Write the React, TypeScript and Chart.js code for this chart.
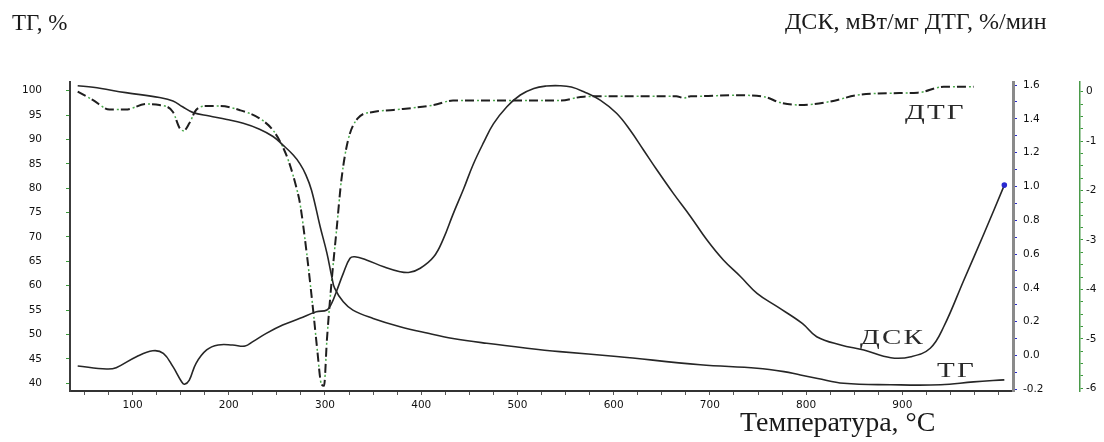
import React, { useEffect, useRef } from "react";
import { Chart, registerables } from "chart.js";
Chart.register(...registerables);

// ---- data ----
const TEMP_TG = [43, 59, 93, 128, 142, 152, 163, 180, 198, 215, 232, 246, 256, 267, 274, 280, 286, 295, 302, 307, 310, 319, 329, 350, 378, 406, 433, 468, 510, 544, 603, 690, 749, 777, 794, 812, 839, 888, 940, 974, 1006];
const TG = [101.0, 100.7, 99.6, 98.6, 97.9, 96.7, 95.5, 94.8, 94.1, 93.3, 92.1, 90.6, 88.9, 86.8, 85.0, 82.8, 79.6, 72.1, 66.7, 61.9, 59.5, 56.7, 55.0, 53.3, 51.6, 50.3, 49.2, 48.2, 47.2, 46.5, 45.5, 43.8, 43.1, 42.4, 41.7, 41.0, 40.0, 39.7, 39.7, 40.3, 40.7];

const TEMP_DSC = [43, 73, 83, 104, 121, 132, 142, 151, 154, 159, 166, 177, 189, 204, 217, 225, 239, 256, 274, 291, 302, 307, 312, 319, 326, 331, 343, 361, 378, 388, 399, 413, 423, 433, 444, 454, 465, 475, 489, 503, 517, 530, 544, 556, 569, 586, 603, 617, 631, 645, 662, 680, 697, 714, 732, 749, 770, 796, 811, 836, 860, 888, 909, 929, 943, 964, 985, 1006];
const DSC = [-0.062, -0.080, -0.072, -0.007, 0.028, 0.013, -0.066, -0.155, -0.170, -0.145, -0.046, 0.033, 0.062, 0.062, 0.056, 0.082, 0.131, 0.180, 0.220, 0.259, 0.269, 0.31, 0.38, 0.486, 0.575, 0.584, 0.565, 0.525, 0.496, 0.492, 0.516, 0.584, 0.690, 0.835, 0.985, 1.130, 1.262, 1.370, 1.472, 1.541, 1.580, 1.594, 1.596, 1.588, 1.560, 1.511, 1.433, 1.334, 1.216, 1.097, 0.959, 0.821, 0.683, 0.565, 0.466, 0.368, 0.289, 0.190, 0.111, 0.062, 0.032, -0.013, -0.007, 0.043, 0.170, 0.447, 0.723, 1.008];

const TEMP_DTG = [43, 59, 76, 93, 114, 128, 142, 149, 153, 159, 166, 177, 191, 211, 232, 246, 256, 263, 270, 274, 281, 288, 292, 296, 299, 302, 307, 312, 317, 324, 334, 350, 371, 413, 433, 468, 517, 544, 569, 603, 638, 665, 673, 680, 690, 725, 756, 773, 794, 825, 853, 888, 916, 943, 974];
const DTG = [0.00, -0.17, -0.36, -0.36, -0.25, -0.27, -0.41, -0.74, -0.79, -0.64, -0.37, -0.29, -0.29, -0.37, -0.54, -0.78, -1.11, -1.45, -1.92, -2.26, -3.27, -4.48, -5.23, -5.90, -5.95, -5.02, -3.81, -2.80, -1.79, -0.98, -0.54, -0.41, -0.37, -0.27, -0.18, -0.18, -0.18, -0.18, -0.10, -0.09, -0.09, -0.09, -0.13, -0.09, -0.09, -0.07, -0.10, -0.22, -0.27, -0.20, -0.07, -0.03, -0.02, 0.10, 0.10];

// ---- tick labels ----
const X_LABELS = [100, 200, 300, 400, 500, 600, 700, 800, 900];
const TG_LABELS = [40, 45, 50, 55, 60, 65, 70, 75, 80, 85, 90, 95, 100];
const DSC_LABELS = [-0.2, 0.0, 0.2, 0.4, 0.6, 0.8, 1.0, 1.2, 1.4, 1.6];
const DTG_LABELS = [-6, -5, -4, -3, -2, -1, 0];

const pts = (xs: number[], ys: number[]) => xs.map((x, i) => ({ x, y: ys[i] }));

const range = (a: number, b: number, step: number) => {
  const out: number[] = [];
  for (let v = a; v <= b + 1e-9; v += step) out.push(Math.round(v * 1000) / 1000);
  return out;
};

const TICK_FONT = { family: "'DejaVu Sans', Verdana, sans-serif", size: 10.5 };

export default function App() {
  const ref = useRef<HTMLCanvasElement>(null);

  useEffect(() => {
    if (!ref.current) return;
    const lastDsc = TEMP_DSC.length - 1;
    const chart = new Chart(ref.current, {
      type: "line",
      data: {
        datasets: [
          {
            label: "ТГ",
            data: pts(TEMP_TG, TG),
            yAxisID: "yTG",
            borderColor: "#262626",
            borderWidth: 1.6,
            pointRadius: 0,
            tension: 0.4,
          },
          {
            label: "ДСК",
            data: pts(TEMP_DSC, DSC),
            yAxisID: "yDSC",
            borderColor: "#262626",
            borderWidth: 1.6,
            pointRadius: (c: any) => (c.dataIndex === lastDsc ? 2 : 0),
            pointBackgroundColor: "#2a2ad0",
            pointBorderColor: "#2a2ad0",
            tension: 0.4,
          },
          {
            label: "ДТГ",
            data: pts(TEMP_DTG, DTG),
            yAxisID: "yDTG",
            borderColor: "#1e1e1e",
            borderWidth: 2,
            borderDash: [9, 7],
            pointRadius: 0,
            cubicInterpolationMode: "monotone",
          },
          {
            label: "ДТГ-dots",
            data: pts(TEMP_DTG, DTG),
            yAxisID: "yDTG",
            borderColor: "#4caa4c",
            borderWidth: 1.5,
            borderDash: [2, 14],
            borderDashOffset: 4,
            pointRadius: 0,
            cubicInterpolationMode: "monotone",
          },
        ] as any,
      },
      options: {
        animation: false,
        responsive: false,
        layout: { padding: { top: 82, left: 0, right: 0, bottom: 0 } },
        plugins: { legend: { display: false }, tooltip: { enabled: false } },
        scales: {
          x: {
            type: "linear",
            position: "bottom",
            min: 35,
            max: 1015,
            afterFit: (s: any) => { s.height = 51; },
            afterBuildTicks: (s: any) => { s.ticks = range(50, 1000, 25).map((v) => ({ value: v })); },
            ticks: {
              autoSkip: false,
              maxRotation: 0,
              padding: 4,
              color: "#111",
              font: TICK_FONT,
              callback: (v: any) => (X_LABELS.includes(Number(v)) ? String(v) : ""),
            },
            grid: { drawOnChartArea: false, drawTicks: true, tickLength: 4, tickColor: "#555", tickWidth: 1 },
            border: { color: "#333", width: 2 },
          },
          yTG: {
            type: "linear",
            position: "left",
            min: 38.42,
            max: 101.78,
            afterFit: (s: any) => { s.width = 70; },
            afterBuildTicks: (s: any) => { s.ticks = TG_LABELS.map((v) => ({ value: v })); },
            ticks: { padding: 24, color: "#111", font: TICK_FONT, callback: (v: any) => String(v) },
            grid: { drawOnChartArea: false, drawTicks: true, tickLength: 4, tickColor: "#3a9a3a", tickWidth: 1 },
            border: { color: "#3c3c3c", width: 2 },
          },
          yDSC: {
            type: "linear",
            position: "right",
            weight: 0,
            min: -0.21,
            max: 1.618,
            afterFit: (s: any) => { s.width = 67; },
            afterBuildTicks: (s: any) => { s.ticks = range(-0.2, 1.6, 0.1).map((v) => ({ value: v })); },
            ticks: {
              padding: 6,
              color: "#111",
              font: TICK_FONT,
              autoSkip: false,
              callback: (v: any) => {
                const n = Number(v);
                const hit = DSC_LABELS.find((l) => Math.abs(l - n) < 1e-6);
                return hit === undefined ? "" : hit.toFixed(1);
              },
            },
            grid: { drawOnChartArea: false, drawTicks: true, tickLength: 4, tickColor: "#2a2acc", tickWidth: 1 },
            border: { color: "#8a8a8a", width: 3 },
          },
          yDTG: {
            type: "linear",
            position: "right",
            weight: 1,
            min: -6.055,
            max: 0.196,
            afterFit: (s: any) => { s.width = 24; },
            afterBuildTicks: (s: any) => { s.ticks = range(-6, 0, 0.25).map((v) => ({ value: v })); },
            ticks: {
              padding: 3,
              color: "#111",
              font: TICK_FONT,
              autoSkip: false,
              callback: (v: any) => {
                const n = Number(v);
                return DTG_LABELS.includes(n) ? String(n) : "";
              },
            },
            grid: { drawOnChartArea: false, drawTicks: true, tickLength: 3, tickColor: "#3a9a3a", tickWidth: 1 },
            border: { color: "#4a9a4a", width: 1.5 },
          },
        },
      } as any,
    });
    return () => chart.destroy();
  }, []);

  const serif = "'Liberation Serif', 'Times New Roman', serif";
  const txt = (extra: React.CSSProperties): React.CSSProperties => ({
    position: "absolute",
    fontFamily: serif,
    color: "#1a1a1a",
    lineHeight: 1,
    whiteSpace: "nowrap",
    ...extra,
  });
  const curveLbl = (left: number, top: number): React.CSSProperties =>
    txt({
      left,
      top,
      fontSize: 20,
      letterSpacing: 1.5,
      color: "#2a2a2a",
      transform: "scaleX(1.45)",
      transformOrigin: "left top",
    });

  return (
    <div style={{ position: "fixed", left: 0, top: 0, width: 1104, height: 442, background: "#fff", overflow: "hidden" }}>
      <canvas ref={ref} width={1104} height={442} style={{ display: "block" }} />
      <div style={txt({ left: 12, top: 11, fontSize: 23 })}>ТГ, %</div>
      <div style={txt({ left: 785, top: 9, fontSize: 24 })}>ДСК, мВт/мг ДТГ, %/мин</div>
      <div style={txt({ left: 740, top: 408, fontSize: 28 })}>Температура, °С</div>
      <div style={curveLbl(905, 102)}>ДТГ</div>
      <div style={curveLbl(860, 327)}>ДСК</div>
      <div style={curveLbl(937, 360)}>ТГ</div>
    </div>
  );
}
